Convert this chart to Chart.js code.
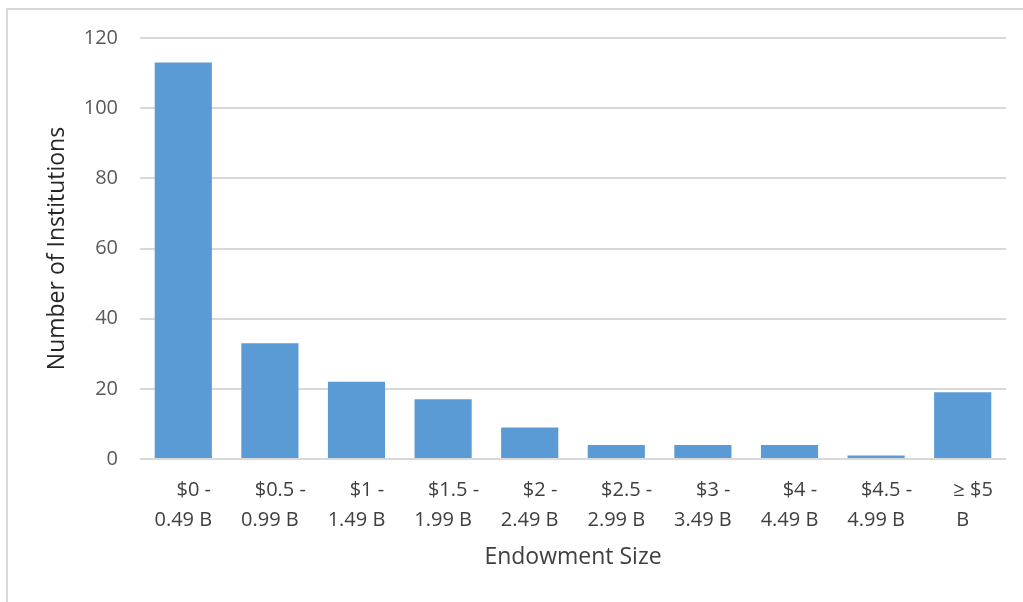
<!DOCTYPE html>
<html>
<head>
<meta charset="utf-8">
<script src="https://cdn.jsdelivr.net/npm/chart.js@4"></script>
<style>
  html, body { margin: 0; padding: 0; background: #fff; }
  #wrap { position: relative; width: 1023px; height: 602px; overflow: hidden; }
  #frame {
    position: absolute; left: 6px; top: 8px; width: 1100px; height: 700px;
    border-top: 2px solid #d9d9d9; border-left: 2px solid #d9d9d9;
  }
  #endowChart { position: absolute; left: 0; top: 0; }
</style>
</head>
<body>
<div id="wrap">
  <div id="frame"></div>
  <canvas id="endowChart" width="1023" height="602"></canvas>
</div>
<script>
// endowment buckets (first line, second line)
const sizeLabels = [
    ['    $0 -', '0.49 B'],
    ['    $0.5 -', '0.99 B'],
    ['    $1 -', '1.49 B'],
    ['    $1.5 -', '1.99 B'],
    ['    $2 -', '2.49 B'],
    ['    $2.5 -', '2.99 B'],
    ['    $3 -', '3.49 B'],
    ['    $4 -', '4.49 B'],
    ['    $4.5 -', '4.99 B'],
    ['    \u2265 $5', 'B']
];
const institutionCounts = [113, 33, 22, 17, 9, 4, 4, 4, 1, 19];
const yTicks = [0, 20, 40, 60, 80, 100, 120];

const fontFamily = '"Open Sans", "Liberation Sans", sans-serif';

const ctx = document.getElementById('endowChart').getContext('2d');
window.endowChart = new Chart(ctx, {
    type: 'bar',
    data: {
        labels: sizeLabels,
        datasets: [{
            label: 'Number of Institutions',
            data: institutionCounts,
            backgroundColor: '#5b9bd5',
            borderWidth: 0,
            categoryPercentage: 1,
            barPercentage: 0.66
        }]
    },
    options: {
        responsive: false,
        animation: false,
        layout: { padding: { top: 38, right: 17, bottom: 0, left: 0 } },
        plugins: {
            legend: { display: false },
            tooltip: { enabled: false }
        },
        scales: {
            x: {
                grid: { display: false, drawTicks: false },
                border: { display: false },
                ticks: {
                    color: '#404040',
                    padding: 16,
                    maxRotation: 0,
                    autoSkip: false,
                    font: { family: fontFamily, size: 20, lineHeight: 1.5 }
                },
                title: {
                    display: true,
                    text: 'Endowment Size',
                    color: '#404040',
                    font: { family: fontFamily, size: 23, lineHeight: 1.2 },
                    padding: { top: 0, bottom: 31 }
                },
                afterFit(scale) { scale.height = 143; }
            },
            y: {
                min: 0,
                max: 120,
                afterBuildTicks(scale) {
                    scale.ticks = yTicks.map(v => ({ value: v }));
                },
                grid: { color: '#d9d9d9', lineWidth: 2, drawTicks: false },
                border: { display: false },
                ticks: {
                    color: '#595959',
                    padding: 22,
                    font: { family: fontFamily, size: 20 }
                },
                title: {
                    display: true,
                    text: 'Number of Institutions',
                    color: '#262626',
                    font: { family: fontFamily, size: 23, lineHeight: 1.2 },
                    padding: { top: 44, bottom: 0 }
                },
                afterFit(scale) { scale.width = 140; }
            }
        }
    }
});
</script>
</body>
</html>
